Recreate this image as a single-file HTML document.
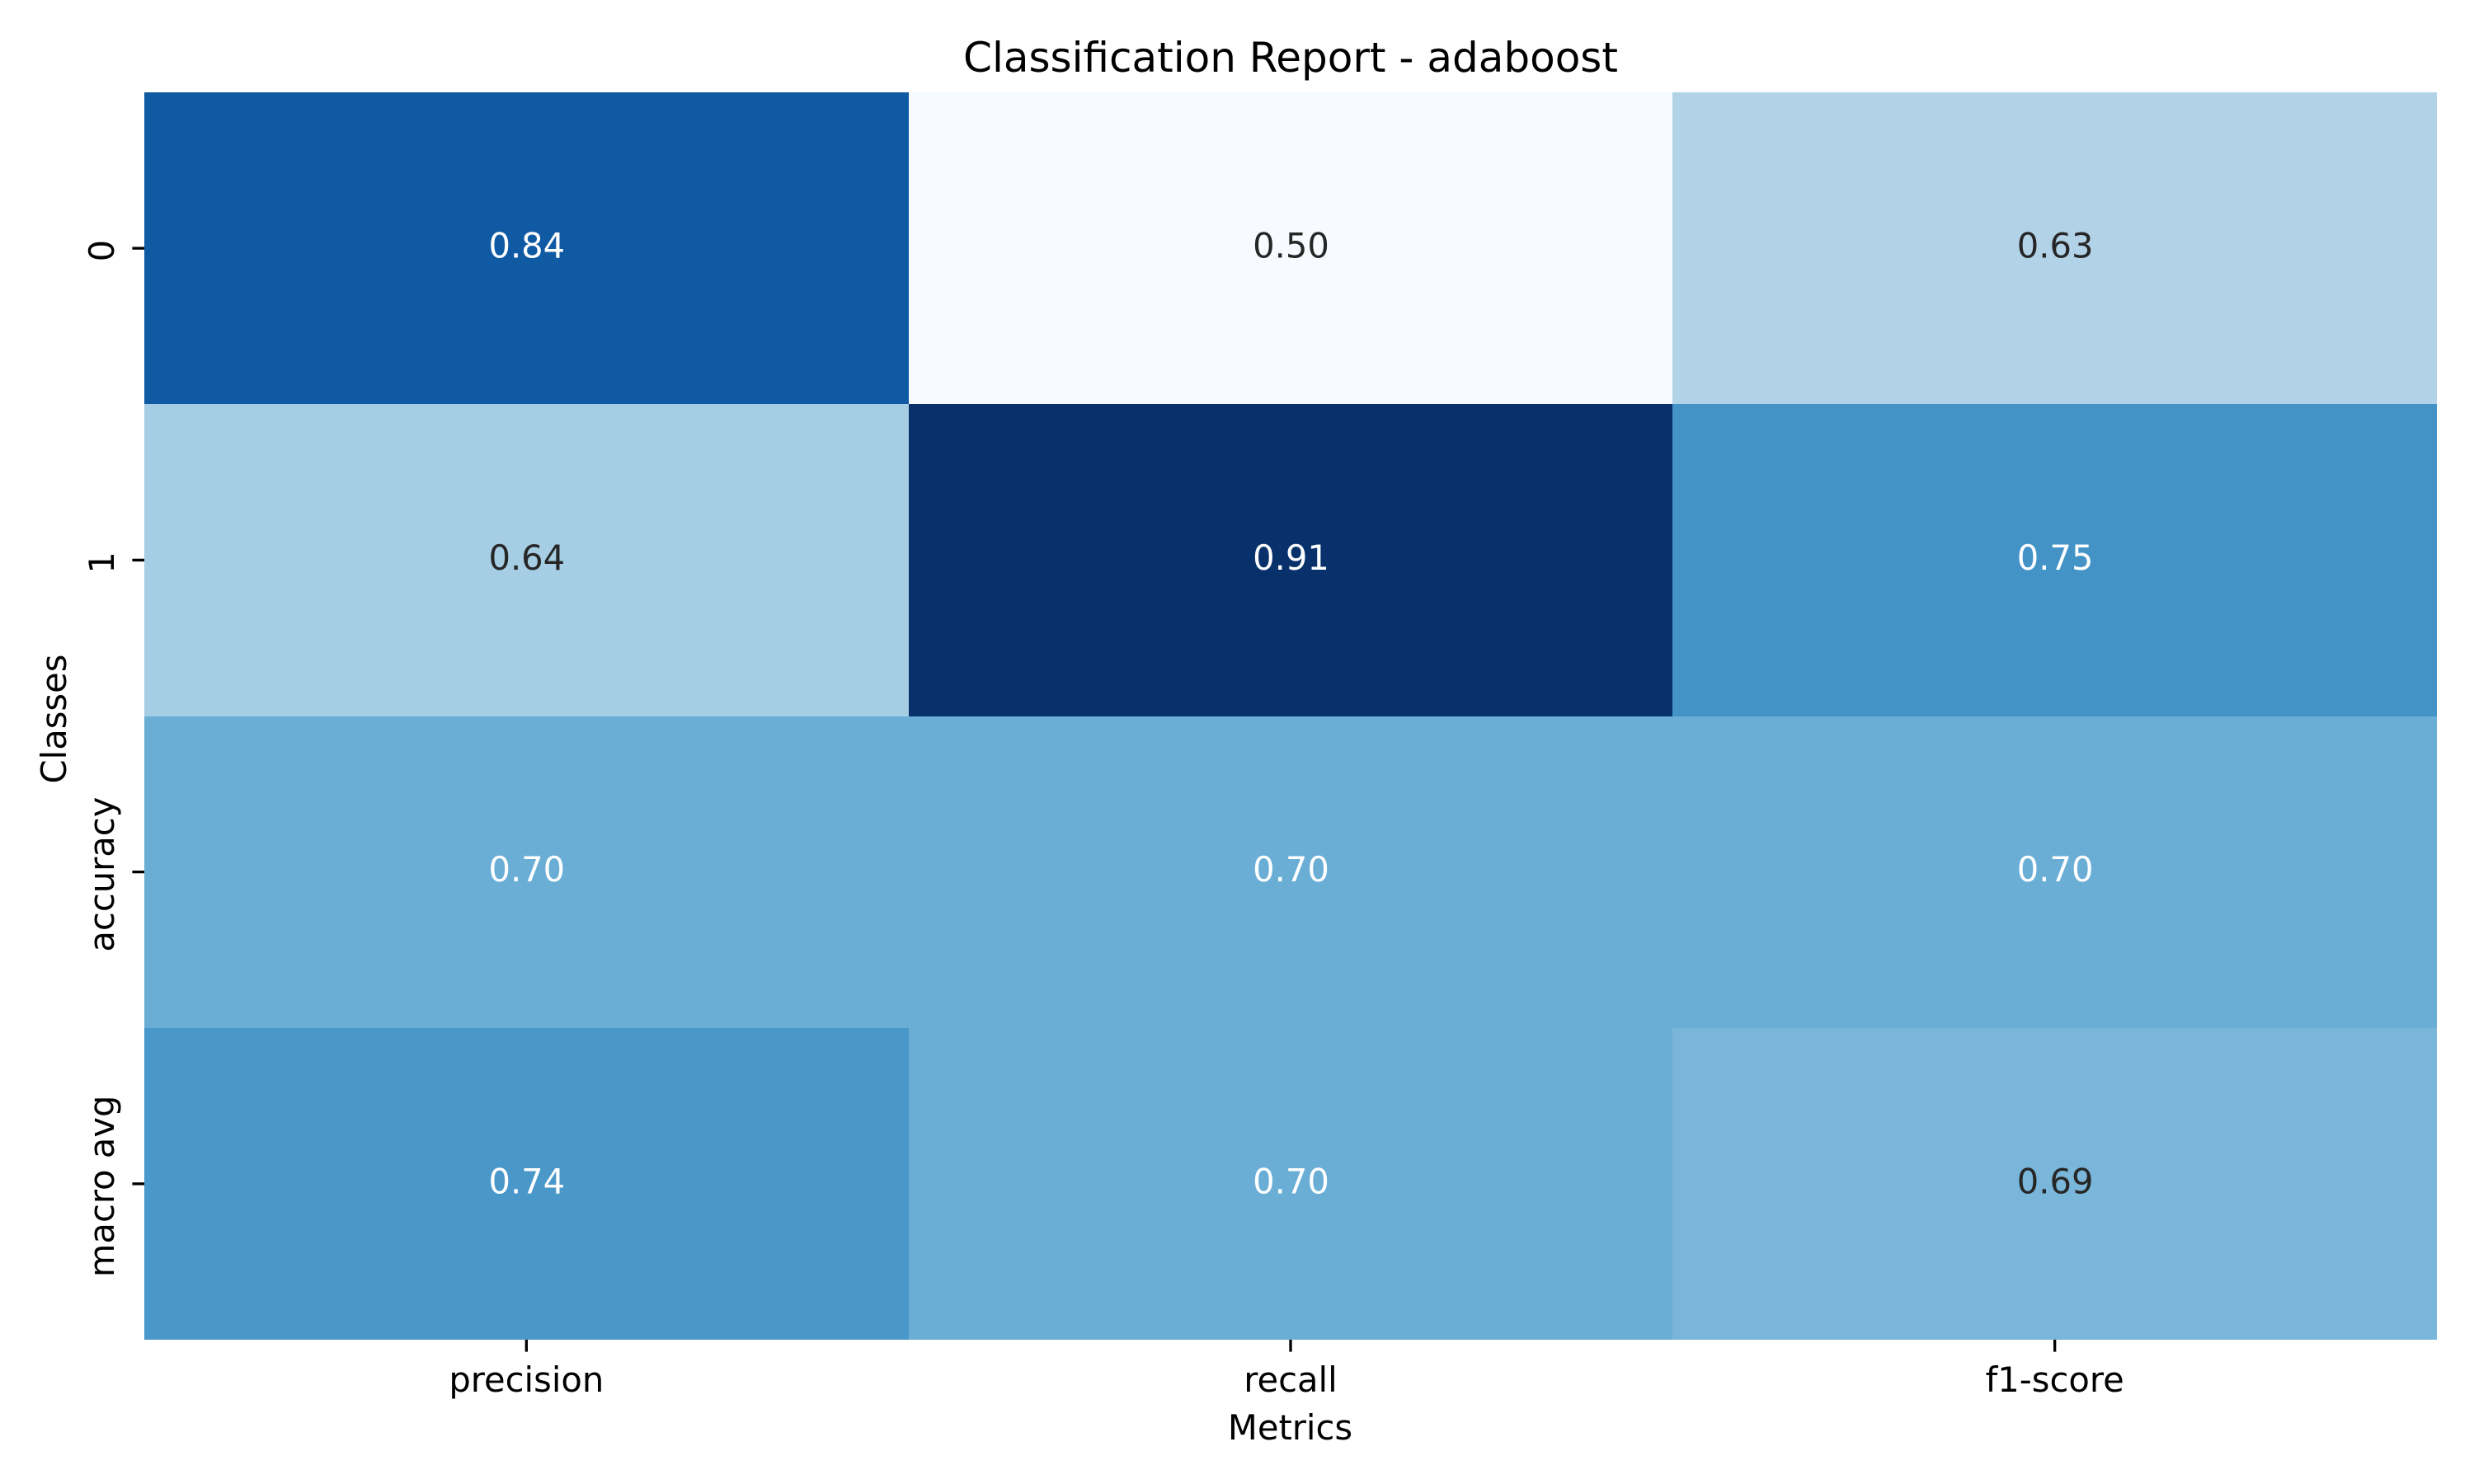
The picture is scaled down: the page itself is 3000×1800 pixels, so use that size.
<!DOCTYPE html>
<html lang="en">
<head>
<meta charset="utf-8">
<title>Classification Report - adaboost</title>
<style>
  html, body { margin: 0; padding: 0; background: #ffffff; }
  body { width: 3000px; height: 1800px; overflow: hidden; }
  svg { display: block; }
  text { font-family: "DejaVu Sans", "Liberation Sans", sans-serif; }
</style>
</head>
<body>
<svg id="chart" xmlns="http://www.w3.org/2000/svg" width="3000" height="1800" viewBox="0 0 3000 1800">
  <rect x="0" y="0" width="3000" height="1800" fill="#ffffff"/>
  <text x="1565" y="87" font-size="50" text-anchor="middle" fill="#000000">Classification Report - adaboost</text>
  <g id="cells" shape-rendering="crispEdges"></g>
  <g id="annotations"></g>
  <g id="x-axis"></g>
  <g id="y-axis"></g>
  <text x="1564.5" y="1746" font-size="41.67" text-anchor="middle" fill="#000000">Metrics</text>
  <text transform="translate(80 872) rotate(-90)" font-size="41.67" text-anchor="middle" fill="#000000">Classes</text>
</svg>
<script>
const metrics = ["precision", "recall", "f1-score"];
const classes = ["0", "1", "accuracy", "macro avg"];
const precisionValues = [0.842, 0.644, 0.7049, 0.745];
const recallValues = [0.500, 0.908, 0.7049, 0.7049];
const f1Values = [0.628, 0.754, 0.7049, 0.690];
const series = [precisionValues, recallValues, f1Values];
const colorStops = ["#f7fbff", "#deebf7", "#c6dbef", "#9ecae1", "#6baed6", "#4292c6", "#2171b5", "#08519c", "#08306b"];

const plot = { left: 175, right: 2955, top: 112, bottom: 1625 };
const NS = "http://www.w3.org/2000/svg";
const allValues = series.flat();
const vMin = Math.min.apply(null, allValues);
const vMax = Math.max.apply(null, allValues);

function xEdge(i) { return plot.left + (plot.right - plot.left) * i / metrics.length; }
function yEdge(j) { return plot.top + (plot.bottom - plot.top) * j / classes.length; }
function xCenter(i) { return xEdge(i + 0.5); }
function yCenter(j) { return yEdge(j + 0.5); }

function hexToRgb(h) {
  return [parseInt(h.slice(1, 3), 16), parseInt(h.slice(3, 5), 16), parseInt(h.slice(5, 7), 16)];
}
function colorFor(v) {
  const t = Math.max(0, Math.min(1, (v - vMin) / (vMax - vMin)));
  const p = t * (colorStops.length - 1);
  const k = Math.min(colorStops.length - 2, Math.floor(p));
  const f = p - k;
  const a = hexToRgb(colorStops[k]);
  const b = hexToRgb(colorStops[k + 1]);
  return [0, 1, 2].map(function (c) { return Math.round(a[c] + (b[c] - a[c]) * f); });
}
function luminance(rgb) {
  const l = rgb.map(function (c) {
    const s = c / 255;
    return s <= 0.03928 ? s / 12.92 : Math.pow((s + 0.055) / 1.055, 2.4);
  });
  return 0.2126 * l[0] + 0.7152 * l[1] + 0.0722 * l[2];
}
function slug(s) { return s.replace(/[^a-z0-9]+/gi, "-").toLowerCase(); }
function make(tag, attrs, parent) {
  const el = document.createElementNS(NS, tag);
  Object.keys(attrs).forEach(function (k) { el.setAttribute(k, attrs[k]); });
  parent.appendChild(el);
  return el;
}

const cellsG = document.getElementById("cells");
const annG = document.getElementById("annotations");
const xG = document.getElementById("x-axis");
const yG = document.getElementById("y-axis");

series.forEach(function (vals, i) {
  vals.forEach(function (v, j) {
    const rgb = colorFor(v);
    const x0 = Math.round(xEdge(i)), x1 = Math.round(xEdge(i + 1));
    const y0 = Math.round(yEdge(j)), y1 = Math.round(yEdge(j + 1));
    const cell = make("rect", { x: x0, y: y0, width: x1 - x0, height: y1 - y0, fill: "rgb(" + rgb.join(",") + ")" }, cellsG);
    
    
    const label = make("text", { x: xCenter(i) + 0.5, y: yCenter(j) + 11.5, "font-size": 41.67, "text-anchor": "middle", fill: luminance(rgb) > 0.408 ? "#262626" : "#ffffff" }, annG);
    
    
    label.textContent = v.toFixed(2);
  });
});

metrics.forEach(function (m, i) {
  const tick = make("line", { x1: xCenter(i), x2: xCenter(i), y1: plot.bottom, y2: plot.bottom + 14.6, stroke: "#000000", "stroke-width": 3.33 }, xG);
  
  
  const label = make("text", { x: xCenter(i), y: 1688, "font-size": 41.67, "text-anchor": "middle", fill: "#000000" }, xG);
  
  
  label.textContent = m;
});

classes.forEach(function (c, j) {
  const tick = make("line", { x1: plot.left - 14.6, x2: plot.left, y1: yCenter(j), y2: yCenter(j), stroke: "#000000", "stroke-width": 3.33 }, yG);
  
  
  const label = make("text", { transform: "translate(138 " + (yCenter(j) + 3) + ") rotate(-90)", "font-size": 41.67, "text-anchor": "middle", fill: "#000000" }, yG);
  
  
  label.textContent = c;
});
</script>
</body>
</html>
